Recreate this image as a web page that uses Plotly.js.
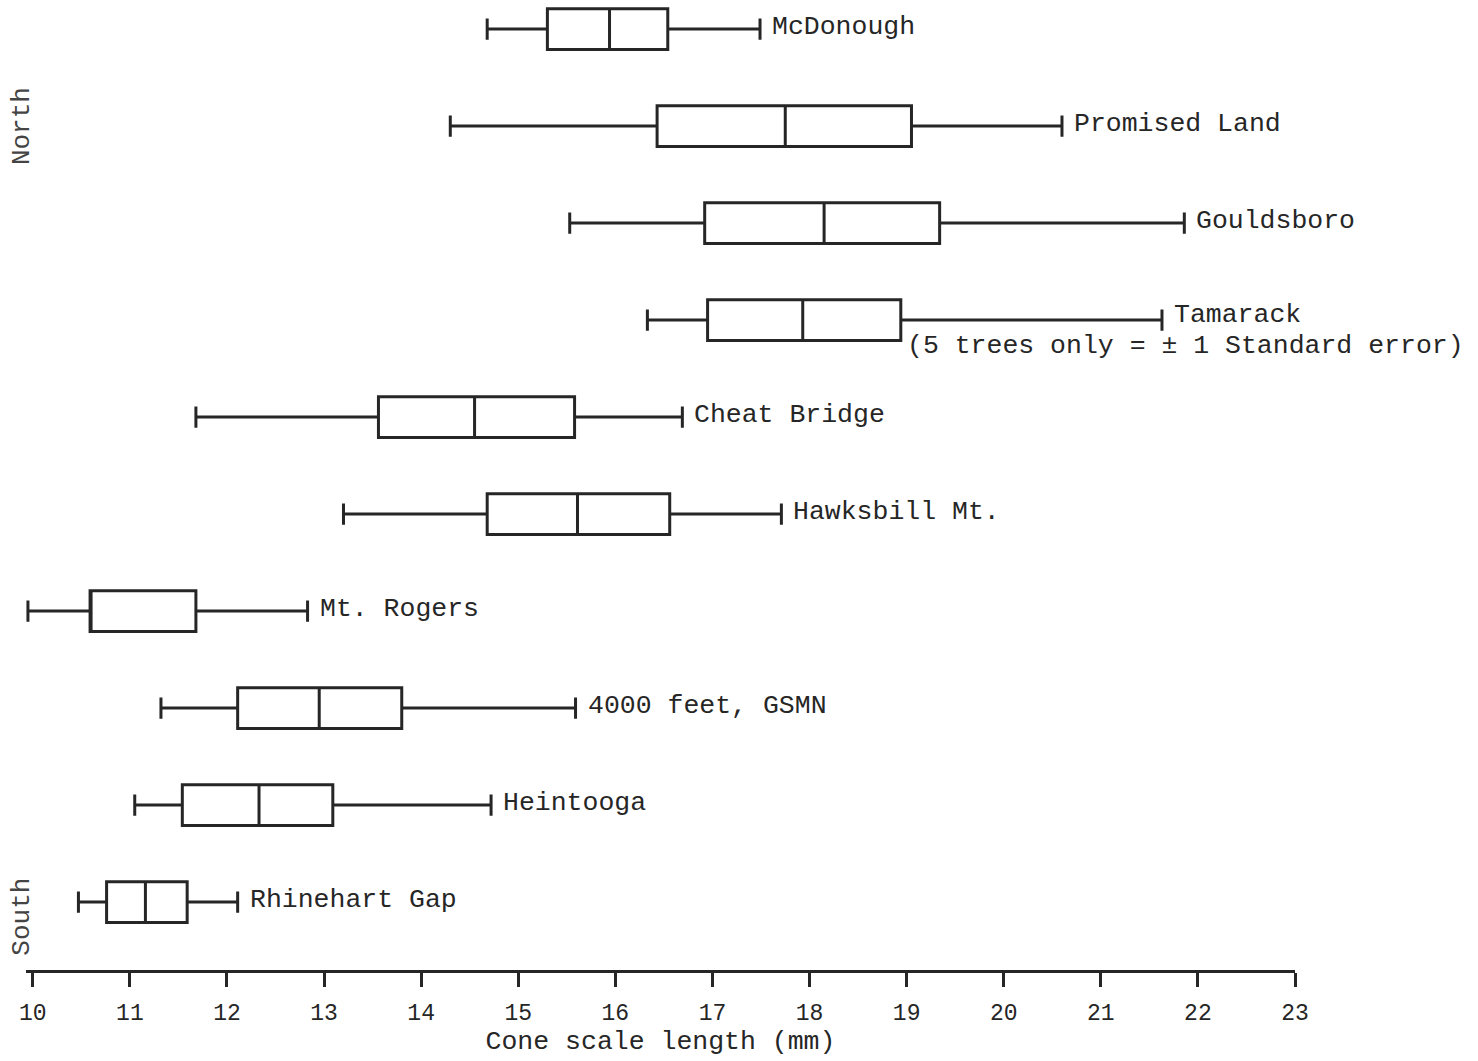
<!DOCTYPE html>
<html>
<head>
<meta charset="utf-8">
<script src="https://cdn.plot.ly/plotly-3.0.1.min.js"></script>
<style>html,body{margin:0;padding:0;background:#fff;}#chart{width:1478px;height:1061px;}</style>
</head>
<body>
<div id="chart"></div>
<script>
// Sites, south (bottom) to north (top)
const sites = ['Rhinehart Gap', 'Heintooga', '4000 feet, GSMN', 'Mt. Rogers', 'Hawksbill Mt.',
               'Cheat Bridge', 'Tamarack', 'Gouldsboro', 'Promised Land', 'McDonough'];
// Cone scale length (mm)
const lowerWhisker = [10.47, 11.05, 11.32, 9.95, 13.20, 11.68, 16.33, 15.53, 14.30, 14.68];
const q1           = [10.76, 11.54, 12.11, 10.59, 14.68, 13.56, 16.95, 16.92, 16.43, 15.30];
const medians      = [11.16, 12.33, 12.95, 10.59, 15.61, 14.55, 17.93, 18.15, 17.75, 15.94]; // Mt. Rogers: no median drawn
const q3           = [11.59, 13.09, 13.80, 11.68, 16.56, 15.58, 18.94, 19.34, 19.05, 16.54];
const upperWhisker = [12.11, 14.72, 15.59, 12.83, 17.71, 16.69, 21.63, 21.86, 20.60, 17.49];
const xTicks = [10, 11, 12, 13, 14, 15, 16, 17, 18, 19, 20, 21, 22, 23];
const tamarackNote = '(5 trees only = \u00B1 1 Standard error)';

const ink = '#262626';
const mono = 'Liberation Mono, Courier New, monospace';
const nb = '\u00A0';

const boxTrace = {
  type: 'box',
  orientation: 'h',
  y: sites,
  q1: q1,
  median: medians,
  q3: q3,
  lowerfence: lowerWhisker,
  upperfence: upperWhisker,
  width: 0.42,
  whiskerwidth: 0.52,
  line: {color: ink, width: 3},
  fillcolor: 'rgba(255,255,255,0)',
  boxpoints: false,
  hoverinfo: 'skip',
  showlegend: false
};

const annotations = sites.map((s, i) => ({
  x: upperWhisker[i], y: i, xref: 'x', yref: 'y',
  text: s, showarrow: false, xanchor: 'left', yanchor: 'middle',
  xshift: 10, yshift: s === 'Tamarack' ? 5 : 2,
  font: {family: mono, size: 26.5, color: ink}
}));
const tIdx = sites.indexOf('Tamarack');
annotations.push({
  x: q3[tIdx], y: tIdx, xref: 'x', yref: 'y',
  text: tamarackNote, showarrow: false, xanchor: 'left', yanchor: 'middle',
  xshift: 4, yshift: -26,
  font: {family: mono, size: 26.5, color: ink}
});
annotations.push({
  x: 0, y: 8, xref: 'paper', yref: 'y', text: 'North', showarrow: false,
  textangle: -90, xanchor: 'center', yanchor: 'middle', xshift: -4,
  font: {family: mono, size: 26, color: '#444'}
});
annotations.push({
  x: 0, y: -0.15, xref: 'paper', yref: 'y', text: 'South', showarrow: false,
  textangle: -90, xanchor: 'center', yanchor: 'middle', xshift: -4,
  font: {family: mono, size: 26, color: '#444'}
});

const layout = {
  width: 1478, height: 1061,
  margin: {l: 26, r: 183, t: 0, b: 91},
  paper_bgcolor: '#ffffff', plot_bgcolor: '#ffffff',
  showlegend: false,
  boxmode: 'overlay',
  xaxis: {
    range: [9.93, 23.0],
    tickvals: xTicks,
    ticktext: xTicks.map(String),
    showgrid: false, zeroline: false,
    showline: true, linecolor: ink, linewidth: 3,
    ticks: 'outside', ticklen: 14, tickwidth: 3, tickcolor: ink,
    ticklabelstandoff: 5,
    tickfont: {family: mono, size: 23, color: ink},
    title: {text: nb.repeat(4) + 'Cone scale length (mm)', font: {family: mono, size: 26.5, color: ink}, standoff: 2}
  },
  yaxis: {
    type: 'category',
    range: [-0.7, 9.3],
    showgrid: false, zeroline: false, showline: false,
    showticklabels: false, ticks: ''
  },
  annotations: annotations
};

Plotly.newPlot('chart', [boxTrace], layout, {staticPlot: true, displayModeBar: false});
</script>
</body>
</html>
